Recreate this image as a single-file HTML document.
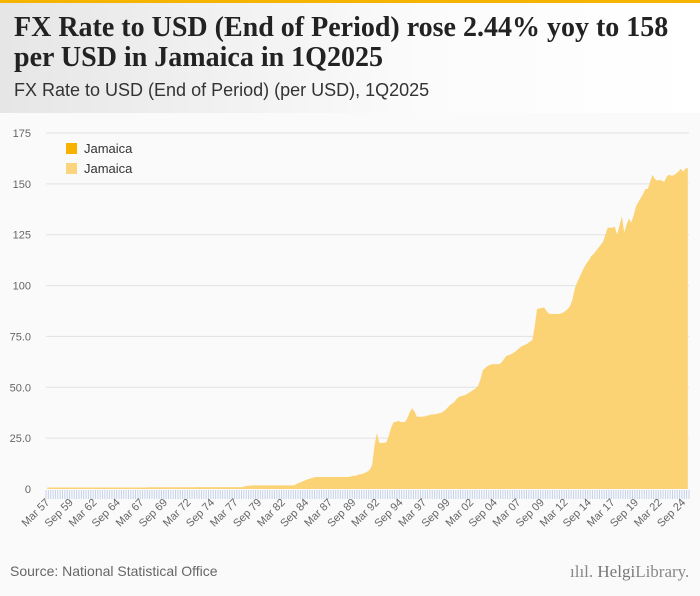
<!DOCTYPE html>
<html><head><meta charset="utf-8"><style>
body{margin:0;width:700px;height:596px;overflow:hidden;background:#fafafa;font-family:"Liberation Sans",sans-serif}
#hdr{position:absolute;left:0;top:0;width:700px;height:113px;background:linear-gradient(90deg,#e6e6e6,#fbfbfb 60%,#fff)}
#bar{position:absolute;left:0;top:0;width:700px;height:3px;background:#f5b400}
#t{position:absolute;left:14px;top:13px;font:bold 28px/30px "Liberation Serif",serif;color:#222;letter-spacing:0px}
#st{position:absolute;left:14px;top:80px;font:18px "Liberation Sans",sans-serif;color:#333}
#src{position:absolute;left:10px;top:563px;font:14px "Liberation Sans",sans-serif;color:#666}
#logo{position:absolute;left:570px;top:562px;font:17px "Liberation Serif",serif;color:#888}
</style></head><body>
<div id="hdr"></div>
<div id="bar"></div>
<div id="t">FX Rate to USD (End of Period) rose 2.44% yoy to 158<br>per USD in Jamaica in 1Q2025</div>
<div id="st">FX Rate to USD (End of Period) (per USD), 1Q2025</div>
<svg id="c" width="700" height="596" style="position:absolute;left:0;top:0"></svg>
<div id="src">Source: National Statistical Office</div>
<div id="logo">ılıl. <b style="font-weight:normal;color:#777">Helgi</b>Library.</div>
<script>
const startYear = 1957;
const yTicks = [0,25,50,75,100,125,150,175];
const yTickLabels = ["0","25.0","50.0","75.0","100","125","150","175"];
const early = [];
for(let i=0;i<43;i++) early.push(0.71);
for(let i=0;i<21;i++) early.push(0.83);
for(let i=0;i<20;i++) early.push(0.91);
const values = early.concat([
1.41,1.55,1.63,1.71,
1.78,1.78,1.78,1.78, 1.78,1.78,1.78,1.78, 1.78,1.78,1.78,1.78, 1.78,1.78,1.78,1.78,
1.78,1.78,2.5,3.1, 3.5,4.0,4.5,4.9, 5.3,5.6,5.9,5.9,
5.9,5.9,5.9,5.9, 5.9,5.9,5.9,5.9, 5.9,5.9,5.9,5.9,
5.9,6.2,6.5,6.5, 7.0,7.2,7.5,8.0, 8.6,9.5,12,21.5,
27.5,22.7,22.7,22.7, 23,26,30,32.8, 33,33.5,33,32.9, 33,35,38,39.7,
38,35.5,35.5,35.5, 35.6,36,36.2,36.6, 36.7,36.8,37.2,37.3, 38,38.8,40,41.2,
42,43,44.5,45.4, 45.7,46,46.5,47.3, 48,48.7,49.5,50.8, 54,58.5,59.5,60.5,
61,61.3,61.4,61.4, 61.4,62.3,64,65.5, 65.8,66.3,67,67.8, 68.8,69.8,70.5,71,
71.5,72.5,73.2,80, 88.5,88.8,89,89.3, 87.5,86.2,86,86, 86,86,86.2,86.7,
87.5,88.5,90,93, 98.5,101.5,104,106.5, 109,111,112.5,114.5, 115.5,117,118.5,120,
121.5,125,128.5,128.5, 128.5,129,125,129.5, 134,126,130,133, 131,134.5,139,141,
143,145,147.5,147.5, 151,154.5,152.5,151.5, 152,151.5,151,153.5, 154.5,154,154.2,155,
156,157.5,156,157.5, 158]);
const categories = values.map((v,i)=>{const y=startYear+Math.floor(i/4);const m=["Mar","Jun","Sep","Dec"][i%4];return m+" "+String(y%100).padStart(2,"0");});

const NS="http://www.w3.org/2000/svg", svg=document.getElementById('c');
const X0=46,X1=689,Y0=489,Y1=133;
const bw=(X1-X0)/categories.length;
const xs=i=>X0+(i+0.5)*bw;
const ys=v=>Y0-(v/175)*(Y0-Y1);
function mk(t,a){const e=document.createElementNS(NS,t);for(const k in a)e.setAttribute(k,a[k]);svg.appendChild(e);return e;}
yTicks.forEach((t,k)=>{
  if(t>0){const g=mk('line',{x1:X0,x2:X1,y1:ys(t),y2:ys(t),stroke:'#e2e2e2','stroke-width':1});
  
  }
  const l=mk('text',{x:31,y:ys(t)+4,'text-anchor':'end','font-size':11,fill:'#666','font-family':'Liberation Sans,sans-serif'});
  l.textContent=yTickLabels[k];
  
  
});
let d='M'+xs(0)+','+Y0;
values.forEach((v,i)=>{d+=' L'+xs(i)+','+ys(v);});
d+=' L'+xs(values.length-1)+','+Y0+' Z';
const area=mk('path',{d:d,fill:'#fbd374'});


let td='';
for(let i=0;i<=categories.length;i++){const x=(X0+i*bw).toFixed(2);td+='M'+x+','+(Y0+1)+' V'+(Y0+10)+' ';}
const tk=mk('path',{d:td,stroke:'#c5d2ea','stroke-width':1});


categories.forEach((c,i)=>{
  if(i%10) return;
  const x=xs(i)+3,y=Y0+14;
  const t=mk('text',{x:x,y:y,'text-anchor':'end','font-size':11,fill:'#666','font-family':'Liberation Sans,sans-serif',transform:'rotate(-45 '+x+' '+y+')'});
  t.textContent=c;
  
  
});
[['#f8b100',143],['#fbd47e',163]].forEach((p,k)=>{
  const r=mk('rect',{x:66,y:p[1],width:11,height:11,fill:p[0]});
  
  
  const t=mk('text',{x:84,y:p[1]+10,'font-size':13,fill:'#333','font-family':'Liberation Sans,sans-serif'});
  t.textContent='Jamaica';
  
  
});
</script>
</body></html>
